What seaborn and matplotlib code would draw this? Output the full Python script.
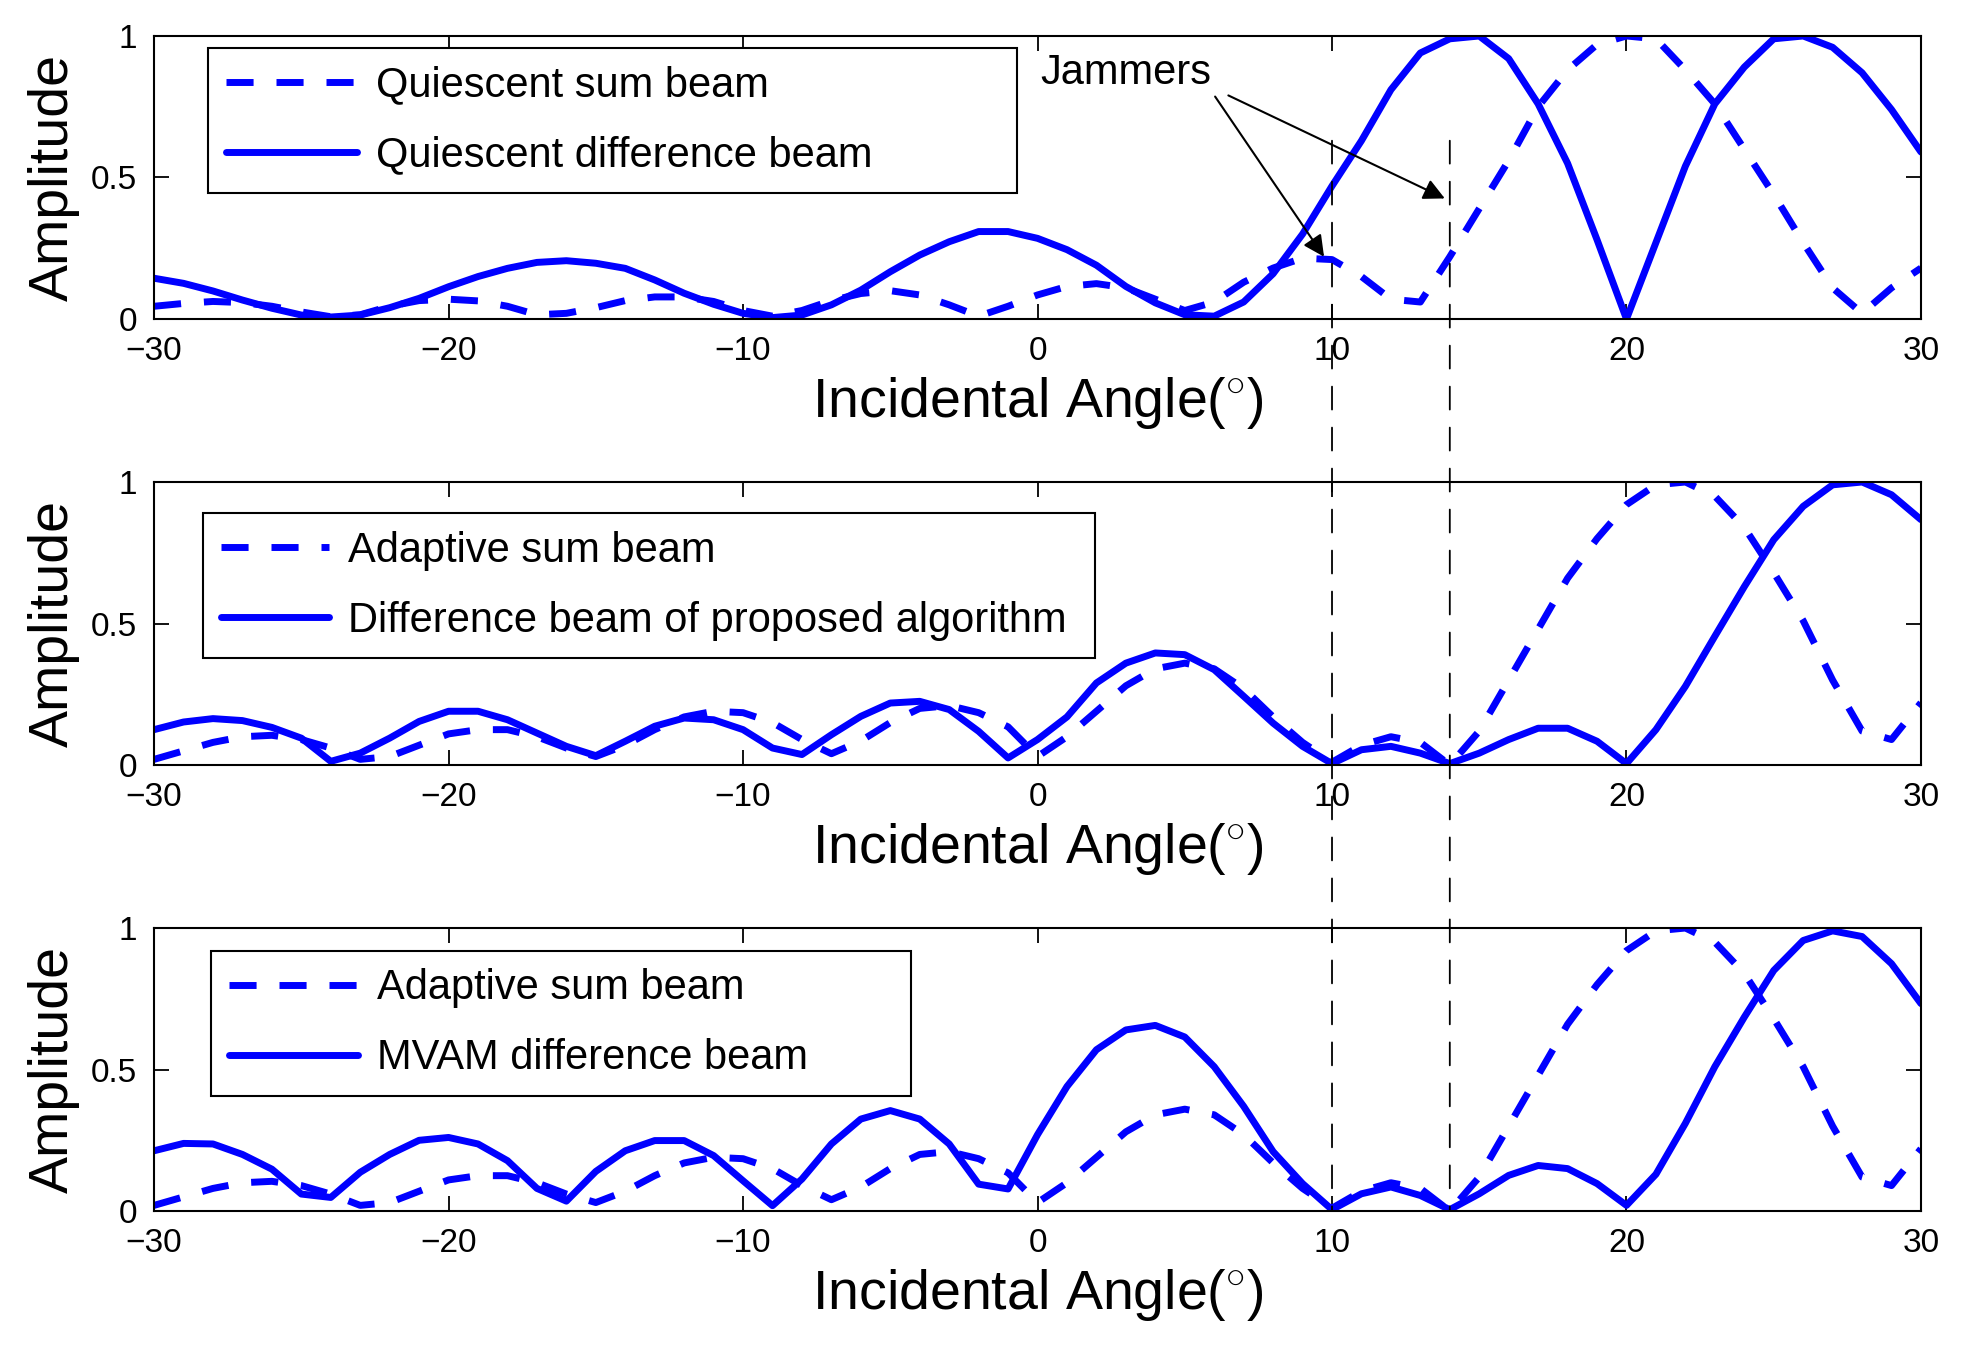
import matplotlib
matplotlib.use("Agg")
import matplotlib.pyplot as plt
from matplotlib.patches import ConnectionPatch
import seaborn as sns

# incident angle grid (degrees), one sample per degree
angles = list(range(-30, 31))

# top panel
quiescent_sum = [
    0.045, 0.055, 0.062, 0.058, 0.045, 0.025, 0.008, 0.015, 0.045, 0.065,
    0.070, 0.064, 0.045, 0.015, 0.020, 0.040, 0.065, 0.078, 0.078, 0.062,
    0.030, 0.010, 0.030, 0.065, 0.090, 0.100, 0.085, 0.050, 0.010, 0.045,
    0.085, 0.115, 0.125, 0.110, 0.070, 0.030, 0.060, 0.130, 0.180, 0.215,
    0.210, 0.150, 0.070, 0.060, 0.220, 0.390, 0.560, 0.750, 0.880, 0.970,
    1.000, 0.990, 0.880, 0.760, 0.600, 0.440, 0.270, 0.110, 0.020, 0.110,
    0.180,
]
quiescent_diff = [
    0.144, 0.126, 0.099, 0.067, 0.038, 0.014, 0.007, 0.014, 0.040, 0.073,
    0.114, 0.150, 0.179, 0.200, 0.206, 0.197, 0.179, 0.138, 0.091, 0.052,
    0.020, 0.005, 0.014, 0.050, 0.102, 0.167, 0.226, 0.273, 0.309, 0.309,
    0.285, 0.245, 0.190, 0.115, 0.057, 0.015, 0.010, 0.060, 0.160, 0.300,
    0.470, 0.630, 0.810, 0.940, 0.990, 1.000, 0.920, 0.760, 0.550, 0.280,
    0.000, 0.270, 0.540, 0.760, 0.890, 0.990, 1.000, 0.960, 0.870, 0.740,
    0.590,
]

# middle and bottom panels share the adaptive sum beam
adaptive_sum = [
    0.020, 0.050, 0.080, 0.100, 0.105, 0.090, 0.060, 0.020, 0.030, 0.070,
    0.110, 0.125, 0.125, 0.100, 0.060, 0.030, 0.070, 0.125, 0.170, 0.190,
    0.185, 0.150, 0.090, 0.040, 0.085, 0.150, 0.200, 0.210, 0.185, 0.135,
    0.030, 0.100, 0.190, 0.280, 0.340, 0.360, 0.340, 0.270, 0.170, 0.080,
    0.010, 0.070, 0.100, 0.080, 0.000, 0.120, 0.300, 0.480, 0.660, 0.800,
    0.920, 0.990, 1.000, 0.950, 0.840, 0.680, 0.510, 0.300, 0.120, 0.090,
    0.220,
]
proposed_diff = [
    0.125, 0.152, 0.164, 0.157, 0.133, 0.095, 0.013, 0.042, 0.095, 0.154,
    0.190, 0.190, 0.160, 0.113, 0.066, 0.033, 0.084, 0.137, 0.166, 0.160,
    0.125, 0.060, 0.037, 0.107, 0.172, 0.219, 0.225, 0.196, 0.119, 0.025,
    0.090, 0.170, 0.290, 0.360, 0.396, 0.390, 0.337, 0.243, 0.148, 0.066,
    0.005, 0.054, 0.066, 0.042, 0.005, 0.042, 0.090, 0.130, 0.130, 0.084,
    0.005, 0.125, 0.278, 0.455, 0.630, 0.796, 0.914, 0.990, 1.000, 0.955,
    0.867,
]
mvam_diff = [
    0.213, 0.239, 0.237, 0.200, 0.148, 0.060, 0.048, 0.137, 0.200, 0.250,
    0.260, 0.237, 0.178, 0.080, 0.035, 0.140, 0.213, 0.249, 0.249, 0.196,
    0.107, 0.019, 0.113, 0.237, 0.325, 0.355, 0.325, 0.237, 0.095, 0.078,
    0.270, 0.440, 0.570, 0.640, 0.656, 0.615, 0.510, 0.370, 0.210, 0.097,
    0.005, 0.061, 0.085, 0.055, 0.005, 0.061, 0.126, 0.161, 0.150, 0.097,
    0.020, 0.130, 0.310, 0.510, 0.685, 0.850, 0.956, 0.990, 0.970, 0.874,
    0.733,
]

jammer_angles = [10, 14]
x_ticks = [-30, -20, -10, 0, 10, 20, 30]
y_ticks = [0, 0.5, 1]
y_tick_labels = ["0", "0.5", "1"]

panels = [
    (quiescent_sum, quiescent_diff,
     ["Quiescent sum beam", "Quiescent difference beam"]),
    (adaptive_sum, proposed_diff,
     ["Adaptive sum beam", "Difference beam of proposed algorithm"]),
    (adaptive_sum, mvam_diff,
     ["Adaptive sum beam", "MVAM difference beam"]),
]
# legend box: (x0, top, width) in axes fraction, handle length
legend_boxes = [
    (0.0306, 0.958, 0.458, 3.15),
    (0.0277, 0.890, 0.505, 2.6),
    (0.0323, 0.919, 0.396, 3.1),
]

sns.set_style("ticks")
plt.rcParams["font.family"] = ["Liberation Sans", "DejaVu Sans"]
plt.rcParams["mathtext.fontset"] = "custom"
plt.rcParams["mathtext.rm"] = "Liberation Sans"
plt.rcParams["text.color"] = "black"
plt.rcParams["axes.labelcolor"] = "black"

BLUE = "#0000ff"
LW = 5.0

fig, axes = plt.subplots(3, 1, figsize=(19.68, 13.48), dpi=100)
fig.subplots_adjust(left=0.0783, right=0.9761, top=0.9733, bottom=0.1016,
                    hspace=0.576)

for ax, (sum_beam, diff_beam, labels), box in zip(axes, panels, legend_boxes):
    sns.lineplot(x=angles, y=sum_beam, ax=ax, color=BLUE, linewidth=LW,
                 linestyle=(0, (3.9, 3.3)), label=labels[0])
    sns.lineplot(x=angles, y=diff_beam, ax=ax, color=BLUE, linewidth=LW,
                 label=labels[1])
    ax.set_xlim(-30, 30)
    ax.set_ylim(0, 1)
    ax.set_xticks(x_ticks)
    ax.set_yticks(y_ticks)
    ax.set_yticklabels(y_tick_labels)
    ax.tick_params(direction="in", length=11, width=1.3, labelsize=24,
                   top=True, right=True, pad=12, colors="black")
    for s in ax.spines.values():
        s.set_visible(True)
        s.set_linewidth(1.5)
        s.set_color("black")
    ax.set_xlabel("Incidental Angle($^{\\circ}$)", fontsize=40, labelpad=6)
    ax.set_ylabel("Amplitude", fontsize=40, labelpad=8)

    x0, top, w, hl = box
    leg = ax.legend(loc="upper left", bbox_to_anchor=(x0, 0, w, top),
                    mode="expand", borderaxespad=0, fontsize=30,
                    frameon=True, fancybox=False, framealpha=1,
                    edgecolor="black", handlelength=hl, handletextpad=0.45,
                    labelspacing=0.72, borderpad=0.42)
    leg.get_frame().set_linewidth(1.5)

ax_top, ax_bot = axes[0], axes[-1]

ax_top.text(3.0, 0.87, "Jammers", fontsize=30, ha="center", va="center")
arrow_tails = [(6.03, 0.786), (6.48, 0.79)]
arrow_heads = [(9.73, 0.22), (13.83, 0.426)]
for tail, head in zip(arrow_tails, arrow_heads):
    ax_top.annotate("", xy=head, xytext=tail,
                    arrowprops=dict(arrowstyle="-|>", color="black", lw=1.5,
                                    mutation_scale=32, shrinkA=0, shrinkB=0))

# dashed jammer markers running from the top panel down through the bottom one
for ang in jammer_angles:
    con = ConnectionPatch(xyA=(ang, 0.63), coordsA=ax_top.transData,
                          xyB=(ang, 0), coordsB=ax_bot.transData,
                          color="black", lw=1.3, linestyle=(0, (12.7, 10)))
    fig.add_artist(con)

fig.savefig("out.png", dpi=100)
